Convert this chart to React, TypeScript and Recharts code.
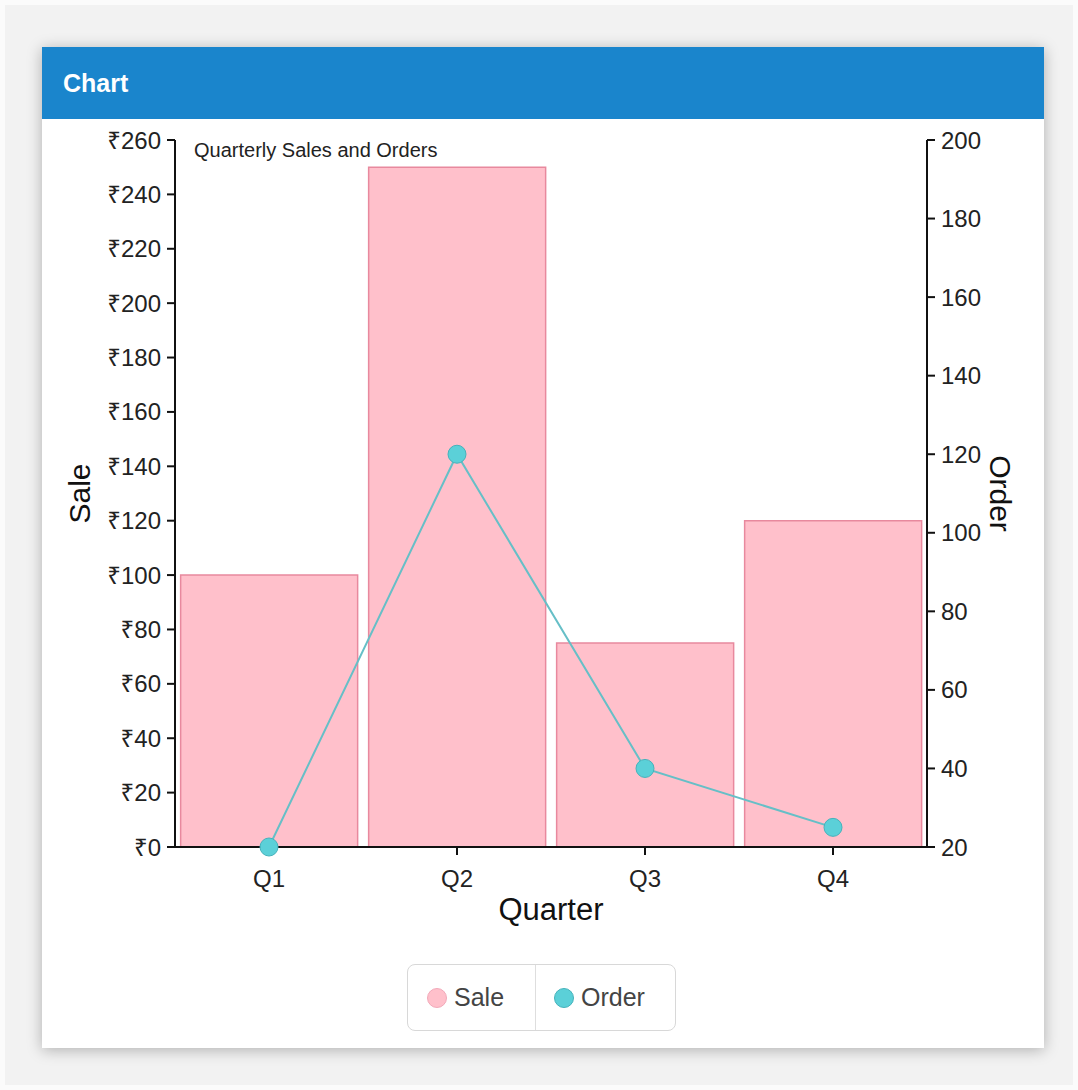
import { ComposedChart, Bar, Line, XAxis, YAxis } from 'recharts';

// values
const quarters = ['Q1', 'Q2', 'Q3', 'Q4'];
const sales = [100, 250, 75, 120];
const orders = [20, 120, 40, 25];
const saleTicks = [0, 20, 40, 60, 80, 100, 120, 140, 160, 180, 200, 220, 240, 260];
const orderTicks = [20, 40, 60, 80, 100, 120, 140, 160, 180, 200];

const data = quarters.map((q, i) => ({ quarter: q, sale: sales[i], order: orders[i] }));

const FONT = '"Liberation Sans", Arial, "Noto Sans", sans-serif';
const PINK = '#ffc0cb';
const PINK_EDGE = '#e8899e';
const TEAL = '#5bd0d8';
const TEAL_EDGE = '#45b2bb';
const tickStyle = { fill: '#222', fontSize: 24 };

const legendItems = [
  { name: 'Sale', color: PINK, edge: '#f2a9b9' },
  { name: 'Order', color: TEAL, edge: TEAL_EDGE },
];

export default function App() {
  return (
    <div style={{ position: 'absolute', left: 0, top: 0, width: 1078, height: 1090, background: '#fbfbfb', fontFamily: FONT }}>
      <div style={{ position: 'absolute', left: 5, top: 5, right: 5, bottom: 5, background: '#f2f2f2' }} />
      <div
        style={{
          position: 'absolute', left: 42, top: 47, width: 1002, height: 1001,
          background: '#fff', boxShadow: '0 2px 14px rgba(0,0,0,0.28)',
        }}
      >
        <div style={{ height: 72, background: '#1a85cc', color: '#fff', fontWeight: 'bold', fontSize: 25, display: 'flex', alignItems: 'center', paddingLeft: 21 }}>
          Chart
        </div>
        <div style={{ position: 'absolute', left: 0, top: 72 }}>
          <ComposedChart width={1002} height={820} data={data} margin={{ top: 21, right: 0, left: 0, bottom: 12 }} barCategoryGap="3%">
            <XAxis
              dataKey="quarter"
              height={80}
              tick={tickStyle}
              tickSize={8}
              tickMargin={15}
              axisLine={{ stroke: '#111', strokeWidth: 2 }}
              tickLine={{ stroke: '#111', strokeWidth: 2 }}
              label={{ value: 'Quarter', position: 'insideBottom', offset: 7, fill: '#111', fontSize: 31 }}
            />
            <YAxis
              yAxisId="left"
              width={133}
              domain={[0, 260]}
              ticks={saleTicks}
              tickFormatter={(v) => `₹${v}`}
              tick={tickStyle}
              tickSize={8}
              tickMargin={6}
              axisLine={{ stroke: '#111', strokeWidth: 2 }}
              tickLine={{ stroke: '#111', strokeWidth: 2 }}
              label={{
                content: ({ viewBox }: any) => {
                  const cy = viewBox.y + viewBox.height / 2;
                  return (
                    <text x={48} y={cy} transform={`rotate(-90 48 ${cy})`} textAnchor="middle" fill="#111" fontSize={30}>
                      Sale
                    </text>
                  );
                },
              }}
            />
            <YAxis
              yAxisId="right"
              orientation="right"
              width={117}
              domain={[20, 200]}
              ticks={orderTicks}
              tick={tickStyle}
              tickSize={8}
              tickMargin={6}
              axisLine={{ stroke: '#111', strokeWidth: 2 }}
              tickLine={{ stroke: '#111', strokeWidth: 2 }}
              label={{
                content: ({ viewBox }: any) => {
                  const cy = viewBox.y + viewBox.height / 2;
                  return (
                    <text x={948} y={cy} transform={`rotate(90 948 ${cy})`} textAnchor="middle" fill="#111" fontSize={30}>
                      Order
                    </text>
                  );
                },
              }}
            />
            <Bar yAxisId="left" dataKey="sale" name="Sale" fill={PINK} stroke={PINK_EDGE} strokeWidth={1.5} isAnimationActive={false} />
            <Line
              yAxisId="right"
              dataKey="order"
              name="Order"
              type="linear"
              stroke="#66bfc7"
              strokeWidth={2}
              dot={{ r: 9, fill: TEAL, stroke: TEAL_EDGE, strokeWidth: 1 }}
              activeDot={false}
              isAnimationActive={false}
            />
          </ComposedChart>
        </div>
        <div style={{ position: 'absolute', left: 152, top: 93, fontSize: 20, lineHeight: '20px', color: '#222' }}>
          Quarterly Sales and Orders
        </div>
        {/* legend box */}
        <div
          style={{
            position: 'absolute', left: 365, top: 917, width: 267, height: 65,
            border: '1px solid #d8d8d8', borderRadius: 8, display: 'flex', alignItems: 'stretch',
          }}
        >
          {legendItems.map((it, i) => (
            <div
              key={it.name}
              style={{
                display: 'flex', alignItems: 'center', paddingLeft: i === 0 ? 19 : 18,
                width: i === 0 ? 127 : 140, boxSizing: 'border-box',
                borderLeft: i > 0 ? '1px solid #dedede' : 'none',
                fontSize: 25, color: '#444',
              }}
            >
              <span style={{ width: 18, height: 18, borderRadius: '50%', background: it.color, border: `1px solid ${it.edge}`, marginRight: 7 }} />
              {it.name}
            </div>
          ))}
        </div>
      </div>
    </div>
  );
}
